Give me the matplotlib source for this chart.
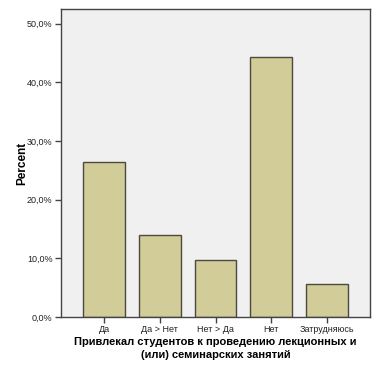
import matplotlib
matplotlib.use('Agg')
import matplotlib.pyplot as plt
from matplotlib.ticker import FuncFormatter

# Response categories and percentages
categories = ['Да', 'Да > Нет', 'Нет > Да', 'Нет', 'Затрудняюсь']
percent = [26.4, 13.9, 9.7, 44.4, 5.6]
yticks = [0, 10, 20, 30, 40, 50]

plt.rcParams['font.family'] = ['Liberation Sans', 'DejaVu Sans']

fig = plt.figure(figsize=(3.78, 3.78), dpi=100)
fig.patch.set_facecolor('white')
ax = fig.add_axes([61 / 378, 1 - 317 / 378, 309 / 378, 308 / 378])
ax.set_facecolor('#f0f0f0')

x = range(len(categories))
ax.bar(x, percent, width=0.75, color='#d2cc98', edgecolor='#4a4a40', linewidth=1.0, zorder=2)

ax.set_xlim(-0.77, 4.77)
ax.set_ylim(0, 52.5)
ax.set_yticks(yticks)
ax.yaxis.set_major_formatter(FuncFormatter(lambda v, p: f'{v:.1f}%'.replace('.', ',')))
ax.set_xticks(list(x))
ax.set_xticklabels(categories)

for s in ax.spines.values():
    s.set_color('#444444')
    s.set_linewidth(1.0)

ax.tick_params(axis='both', direction='out', length=4, width=1, color='#444444',
               labelsize=6.5, labelcolor='#222222', pad=2)

ax.set_ylabel('Percent', fontsize=8.5, fontweight='bold', labelpad=-1)
ax.set_xlabel('Привлекал студентов к проведению лекционных и\n(или) семинарских занятий',
              fontsize=8, fontweight='bold', labelpad=2, linespacing=1.4)

fig.savefig('out.png', dpi=100)
